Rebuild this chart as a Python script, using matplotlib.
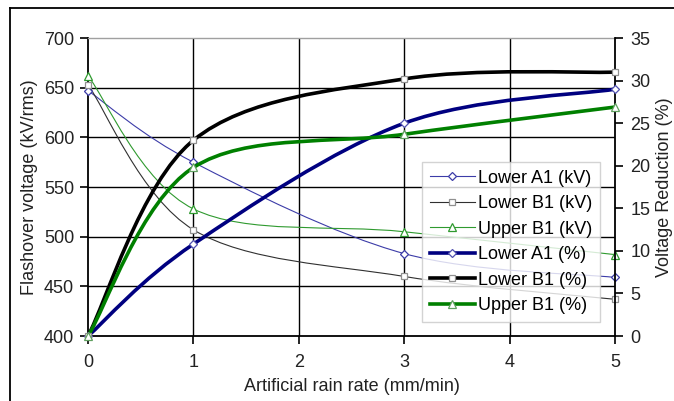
import matplotlib
matplotlib.use("Agg")
import matplotlib.pyplot as plt
from matplotlib.lines import Line2D
from matplotlib.patches import PathPatch
from matplotlib.path import Path

plt.rcParams["font.family"] = ["Liberation Sans", "DejaVu Sans"]

# ── data ────────────────────────────────────────────────────────────────
rain_rate = [0, 1, 3, 5]                      # mm/min

lower_a1_kv = [647, 575, 483, 459]            # flashover voltage, kV
lower_b1_kv = [653, 507, 460, 437]
upper_b1_kv = [662, 528, 505, 482]

lower_a1_pct = [0, 10.8, 25.0, 29.0]          # voltage reduction, %
lower_b1_pct = [0, 23.0, 30.2, 31.0]
upper_b1_pct = [0, 19.8, 23.7, 26.9]

kv_ticks = [400, 450, 500, 550, 600, 650, 700]
pct_ticks = [0, 5, 10, 15, 20, 25, 30, 35]
x_ticks = [0, 1, 2, 3, 4, 5]

FS = 13
TXT = "#222222"
NAVY_THIN = "#3c3ca8"
GREEN_THIN = "#2f9a2f"
BLACK_THIN = "#303030"


def smooth_path(xs, ys):
    # Excel-like smoothed line: cubic Bezier segments with Catmull-Rom tangents
    pts = list(zip(xs, ys))
    n = len(pts)
    verts, codes = [pts[0]], [Path.MOVETO]
    for i in range(n - 1):
        p0 = pts[max(i - 1, 0)]
        p1 = pts[i]
        p2 = pts[i + 1]
        p3 = pts[min(i + 2, n - 1)]
        c1 = (p1[0] + (p2[0] - p0[0]) / 6, p1[1] + (p2[1] - p0[1]) / 6)
        c2 = (p2[0] - (p3[0] - p1[0]) / 6, p2[1] - (p3[1] - p1[1]) / 6)
        verts += [c1, c2, p2]
        codes += [Path.CURVE4] * 3
    return Path(verts, codes)


def draw_series(ax, ys, color, lw, marker, ms, mec=None):
    ax.add_patch(PathPatch(smooth_path(rain_rate, ys), fill=False,
                           edgecolor=color, lw=lw, capstyle="round",
                           joinstyle="round", zorder=3))
    ax.plot(rain_rate, ys, ls="none", marker=marker, ms=ms, mfc="white",
            mec=mec or color, mew=0.9, clip_on=False, zorder=4)
    return Line2D([], [], color=color, lw=lw, marker=marker, ms=ms,
                  mfc="white", mec=mec or color, mew=0.9)


fig = plt.figure(figsize=(6.74, 4.01), dpi=100)
fig.subplots_adjust(left=0.1306, right=0.9125, bottom=0.162, top=0.905)
ax = fig.add_subplot(111)
ax2 = ax.twinx()

# ── grid (black, Excel style) ────────────────────────────────────────────
for y in kv_ticks[1:-1]:
    ax.axhline(y, color="black", lw=1.0, zorder=1)
for x in x_ticks[1:-1]:
    ax.axvline(x, color="black", lw=1.0, zorder=1)

# ── series ───────────────────────────────────────────────────────────────
handles = [
    draw_series(ax, lower_a1_kv, NAVY_THIN, 0.8, "D", 4.5),
    draw_series(ax, lower_b1_kv, BLACK_THIN, 0.8, "s", 5, mec="#909090"),
    draw_series(ax, upper_b1_kv, GREEN_THIN, 0.8, "^", 5.5),
    draw_series(ax2, lower_a1_pct, "#000080", 2.6, "D", 4.5, mec="#5050b0"),
    draw_series(ax2, lower_b1_pct, "black", 2.6, "s", 5, mec="#909090"),
    draw_series(ax2, upper_b1_pct, "#008000", 2.6, "^", 5.5, mec="#60a060"),
]
labels = ["Lower A1 (kV)", "Lower B1 (kV)", "Upper B1 (kV)",
          "Lower A1 (%)", "Lower B1 (%)", "Upper B1 (%)"]

# ── axes ────────────────────────────────────────────────────────────────
ax.set_xlim(0, 5)
ax.set_ylim(400, 700)
ax2.set_ylim(0, 35)
ax.set_xticks(x_ticks)
ax.set_yticks(kv_ticks)
ax2.set_yticks(pct_ticks)

for s in ["left", "bottom"]:
    ax.spines[s].set_color("black")
    ax.spines[s].set_linewidth(1.3)
ax.spines["top"].set_color("#a0a0a0")
ax.spines["top"].set_linewidth(1.0)
ax.spines["right"].set_visible(False)
for s in ["left", "bottom", "top"]:
    ax2.spines[s].set_visible(False)
ax2.spines["right"].set_color("black")
ax2.spines["right"].set_linewidth(1.3)

ax.tick_params(axis="y", direction="out", length=6, width=1.2, labelsize=FS,
               colors="black", labelcolor=TXT, pad=4)
ax.tick_params(axis="x", direction="out", length=6, width=1.2, labelsize=FS,
               colors="black", labelcolor=TXT, pad=7)
ax2.tick_params(direction="out", length=6, width=1.2, labelsize=FS,
                colors="black", labelcolor=TXT, pad=5)

ax.set_xlabel("Artificial rain rate (mm/min)", fontsize=FS, color=TXT,
              labelpad=5)
ax.set_ylabel("Flashover voltage (kV/rms)", fontsize=FS, color=TXT,
              labelpad=4)
ax2.set_ylabel("Voltage Reduction (%)", fontsize=FS, color=TXT,
               rotation=90, labelpad=4)

leg = ax2.legend(handles, labels, loc="upper left", fontsize=FS,
                 bbox_to_anchor=(422 / 674, 1 - 162 / 401),
                 bbox_transform=fig.transFigure, borderaxespad=0,
                 frameon=True, fancybox=False, handlelength=2.5,
                 handletextpad=0.2, labelspacing=0.47, borderpad=0.42)
leg.get_frame().set_edgecolor("#c8c8c8")
leg.get_frame().set_linewidth(1.0)
leg.set_zorder(10)

# outer chart frame (top and left edges visible in the reference)
fig.add_artist(Line2D([10 / 674, 1.0], [1 - 8 / 401, 1 - 8 / 401],
                      transform=fig.transFigure, color="black", lw=1.3))
fig.add_artist(Line2D([10 / 674, 10 / 674], [0.0, 1 - 8 / 401],
                      transform=fig.transFigure, color="black", lw=1.3))

fig.savefig("out.png", dpi=100)
